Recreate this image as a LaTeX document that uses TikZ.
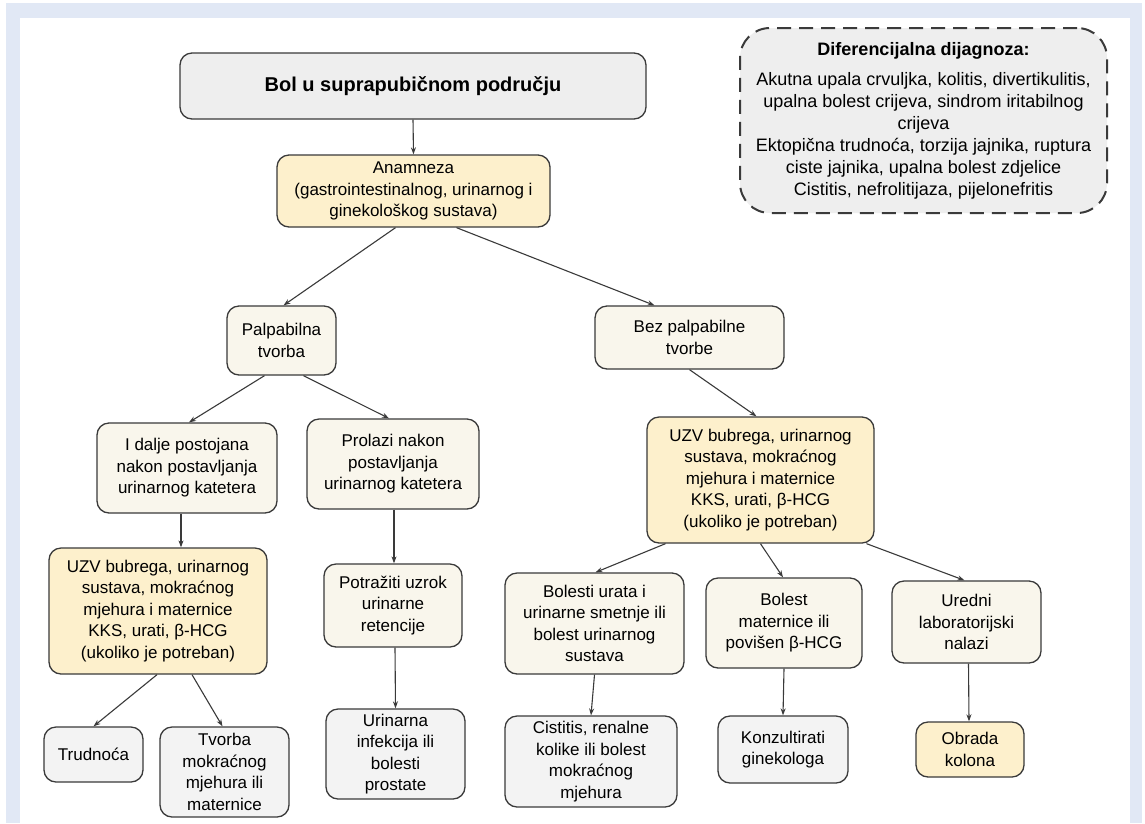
\documentclass[tikz,border=0pt]{standalone}
\usepackage{fontspec}
\setmainfont{Liberation Sans}
\usepackage{xcolor}
\usepackage{tikz}
\usetikzlibrary{positioning,arrows.meta}

\definecolor{frameblue}{HTML}{E1E8F5}
\definecolor{boxgray}{HTML}{EEEEEE}
\definecolor{boxyellow}{HTML}{FDF0CC}
\definecolor{boxcream}{HTML}{F9F6EC}
\definecolor{boxlight}{HTML}{F3F3F3}
\definecolor{linegray}{HTML}{3A3A3A}

\tikzset{
  box/.style={draw=linegray,line width=1.3pt,rounded corners=12pt,align=center,
    inner sep=2pt,font=\fontsize{17}{21.5}\selectfont},
  yellowbox/.style={box,fill=boxyellow},
  creambox/.style={box,fill=boxcream},
  lightbox/.style={box,fill=boxlight},
  arr/.style={draw=linegray,line width=1.1pt,-{Stealth[length=7pt,width=5pt]}}
}

\begin{document}
\begin{tikzpicture}[x=1pt,y=-1pt]
    \useasboundingbox (0,0) rectangle (1145,823);
    % frame
    \fill[frameblue] (6,3) rectangle (1142,823);
    \fill[white] (20,18) rectangle (1130,823);

    \node [box,fill=boxgray,minimum width=466pt,minimum height=66pt,
      font=\fontsize{20}{24}\selectfont\bfseries] (title) at (413,86) {Bol u suprapubičnom području};
    \node [draw=linegray,line width=2pt,dash pattern=on 14pt off 8pt,rounded corners=30pt,
      fill=boxgray,align=center,minimum width=367pt,minimum height=185pt,
      font=\fontsize{18}{22}\selectfont] (ddx) at (923.5,120.5)
      {\rule{0pt}{8pt}\textbf{Diferencijalna dijagnoza:}\\[8pt]
       Akutna upala crvuljka, kolitis, divertikulitis,\\
       upalna bolest crijeva, sindrom iritabilnog\\
       crijeva\\
       Ektopična trudnoća, torzija jajnika, ruptura\\
       ciste jajnika, upalna bolest zdjelice\\
       Cistitis, nefrolitijaza, pijelonefritis};

    \node [yellowbox,minimum width=273pt,minimum height=72pt] (anam) at (413.5,191)
      {Anamneza\\(gastrointestinalnog, urinarnog i\\ginekološkog sustava)};
    \node [creambox,minimum width=109pt,minimum height=69pt] (palp) at (281.5,340.5)
      {Palpabilna\\tvorba};
    \node [creambox,minimum width=189pt,minimum height=63pt] (bez) at (689.5,337.5)
      {Bez palpabilne\\tvorbe};

    \node [creambox,minimum width=180pt,minimum height=90pt] (idalje) at (187,468)
      {I dalje postojana\\nakon postavljanja\\urinarnog katetera};
    \node [creambox,minimum width=172pt,minimum height=90pt] (prolazi) at (393,464)
      {Prolazi nakon\\postavljanja\\urinarnog katetera};
    \node [yellowbox,minimum width=227pt,minimum height=126pt] (uzvR) at (760.5,480)
      {UZV bubrega, urinarnog\\sustava, mokraćnog\\mjehura i maternice\\KKS, urati, β-HCG\\(ukoliko je potreban)};

    \node [yellowbox,minimum width=218pt,minimum height=126pt] (uzvL) at (158,611)
      {UZV bubrega, urinarnog\\sustava, mokraćnog\\mjehura i maternice\\KKS, urati, β-HCG\\(ukoliko je potreban)};
    \node [creambox,minimum width=138pt,minimum height=83pt] (potr) at (393,605.5)
      {Potražiti uzrok\\urinarne\\retencije};
    \node [creambox,minimum width=179pt,minimum height=101pt] (bolesti) at (594.5,623.5)
      {Bolesti urata i\\urinarne smetnje ili\\bolest urinarnog\\sustava};
    \node [creambox,minimum width=156pt,minimum height=90pt] (bolmat) at (784,623)
      {Bolest\\maternice ili\\povišen β-HCG};
    \node [creambox,minimum width=149pt,minimum height=82pt] (uredni) at (966.5,622)
      {Uredni\\laboratorijski\\nalazi};

    \node [lightbox,minimum width=99pt,minimum height=55pt] (trud) at (93.5,754.5) {Trudnoća};
    \node [lightbox,minimum width=129pt,minimum height=90pt] (tvorba) at (224.5,772)
      {Tvorba\\mokraćnog\\mjehura ili\\maternice};
    \node [lightbox,minimum width=139pt,minimum height=90pt] (urin) at (395.5,754)
      {Urinarna\\infekcija ili\\bolesti\\prostate};
    \node [lightbox,minimum width=172pt,minimum height=91pt] (cist) at (591,761.5)
      {Cistitis, renalne\\kolike ili bolest\\mokraćnog\\mjehura};
    \node [lightbox,minimum width=130pt,minimum height=67pt] (konz) at (783,749.5)
      {Konzultirati\\ginekologa};
    \node [yellowbox,minimum width=108pt,minimum height=55pt] (obrada) at (970,749.5)
      {Obrada\\kolona};

    % connectors
    \draw[arr] (title.south) -- (anam.north);
    \draw[arr] ([xshift=-18pt]anam.south) -- ([xshift=2pt]palp.north);
    \draw[arr] ([xshift=43pt]anam.south) -- ([xshift=-35pt]bez.north);
    \draw[arr] ([xshift=-17pt]palp.south) -- ([xshift=2pt]idalje.north);
    \draw[arr] ([xshift=22pt]palp.south) -- ([xshift=-4pt]prolazi.north);
    \draw[arr] (bez.south) -- ([xshift=-4pt]uzvR.north);
    \draw[arr] ([xshift=-6pt]idalje.south) -- ([xshift=23pt]uzvL.north);
    \draw[arr] ([xshift=1pt]prolazi.south) -- ([xshift=1pt]potr.north);
    \draw[arr] ([xshift=2pt]potr.south) -- (urin.north);
    \draw[arr] ([xshift=-1pt]uzvL.south) -- (trud.north);
    \draw[arr] ([xshift=34pt]uzvL.south) -- ([xshift=-2pt]tvorba.north);
    \draw[arr] ([xshift=-95pt]uzvR.south) -- ([xshift=1pt]bolesti.north);
    \draw[arr] (uzvR.south) -- ([xshift=-1pt]bolmat.north);
    \draw[arr] ([xshift=106pt]uzvR.south) -- ([xshift=-2pt]uredni.north);
    \draw[arr] (bolesti.south) -- (cist.north);
    \draw[arr] (bolmat.south) -- (konz.north);
    \draw[arr] ([xshift=2pt]uredni.south) -- ([xshift=-1pt]obrada.north);
\end{tikzpicture}
\end{document}
